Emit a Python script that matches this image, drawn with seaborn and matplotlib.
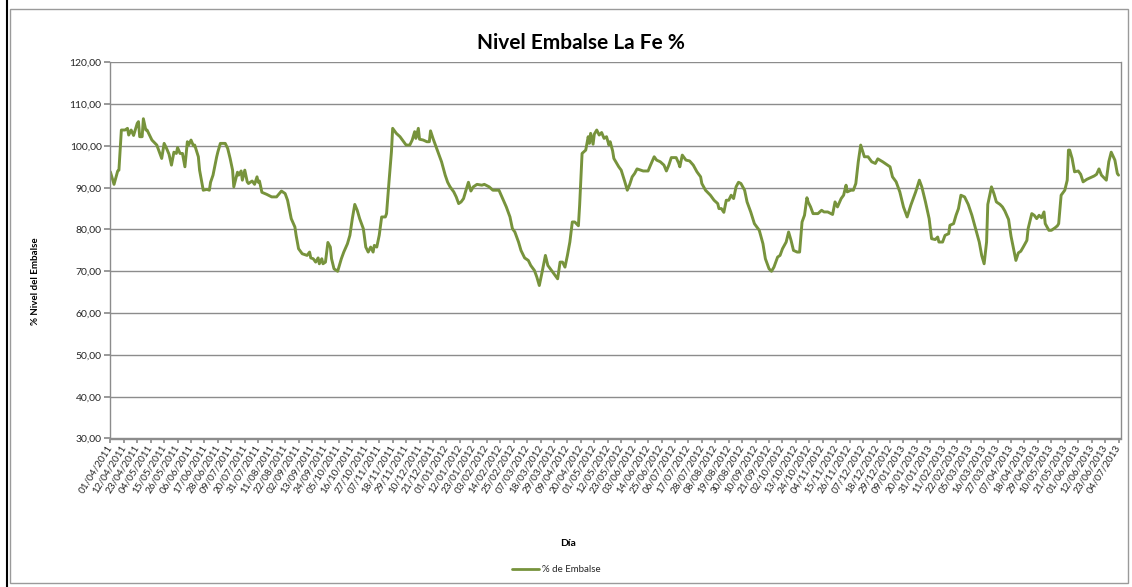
import numpy as np
import pandas as pd
import matplotlib
matplotlib.use("Agg")
import matplotlib.pyplot as plt
import matplotlib.dates as mdates
from matplotlib.lines import Line2D
from matplotlib.patches import Rectangle
from matplotlib.ticker import FuncFormatter
import seaborn as sns

# datos (dias desde el 01/04/2011, nivel en %)
fecha_inicio = "2011-04-01"
fecha_fin = "2013-07-04"

dias = [
    0, 3, 6, 7, 9, 12, 14, 15, 17, 19, 22, 23, 24, 26, 27, 29, 30, 34, 38, 41,
    42, 44, 46, 48, 50, 52, 54, 55, 57, 59, 61, 63, 64, 66, 68, 69, 72, 73, 76, 79,
    81, 82, 84, 87, 88, 90, 94, 96, 98, 100, 101, 104, 105, 107, 108, 110, 112, 113, 116, 118,
    120, 121, 122, 124, 128, 132, 136, 140, 143, 145, 148, 151, 152, 154, 157, 161, 163, 164, 166, 168,
    170, 171, 173, 174, 176, 178, 180, 181, 183, 186, 189, 191, 194, 196, 198, 200, 202, 204,
    207, 209, 211, 213, 215, 216, 218, 220, 222, 225, 226, 228, 230, 231, 234, 237, 240, 242, 245, 247,
    249, 250, 252, 253, 256, 259, 261, 262, 264, 266, 268, 271, 274, 276, 278, 281, 283, 285, 287, 289,
    291, 293, 295, 297, 300, 304, 306, 310, 313, 318, 321, 324, 327, 329, 331, 334, 336, 339, 342, 344,
    347, 349, 351, 353, 356, 358, 361, 363, 366, 368, 370, 372, 374, 376, 378, 380, 383, 384, 385, 386,
    389, 391, 392, 393, 395, 396, 398, 400, 402, 404, 406, 408, 409, 411, 412, 416,
    418, 421, 423, 425, 427, 429, 431, 434, 436, 440, 442, 445, 447, 450, 453, 455, 457, 459, 463, 465,
    466, 468, 471, 474, 477, 480, 483, 484, 487, 491, 494, 497, 498, 500, 502, 504, 506, 508, 510, 512,
    514, 516, 519, 521, 524, 527, 529, 531, 534, 536, 539, 541, 543, 546, 548, 550, 553, 555, 557, 559,
    562, 564, 566, 568, 570, 571, 573, 575, 579, 582, 584, 587, 591, 593, 595, 598, 600, 602, 603, 606,
    608, 610, 612, 614, 617, 620, 623,
    626, 628, 632, 634, 638, 640, 643, 646, 649, 652, 655, 659, 662, 664, 667, 670, 672, 675, 677, 678,
    681, 683, 686, 687, 690, 692, 694, 696, 699, 702, 705, 708, 711, 713, 715, 717, 718, 721, 723, 725,
    728, 730, 732, 735, 737, 741, 743, 745, 747, 750, 751, 754, 756, 758, 760, 762, 764, 765, 768, 770,
    773, 775, 776, 778, 781, 783, 784, 785, 787, 789, 792, 794, 796, 799, 802, 805, 807, 809, 811, 815,
    817, 819, 822, 824, 825,
]

nivel = [
    93.8, 90.8, 94.0, 94.2, 103.8, 103.8, 104.2, 102.6, 103.8, 102.5, 105.4, 105.8, 102.2, 102.2, 106.5, 103.8, 103.8, 101.4, 100.2, 97.8,
    97.0, 100.6, 99.4, 98.0, 95.4, 98.5, 98.2, 99.6, 98.2, 98.2, 95.0, 101.0, 100.2, 101.4, 100.0, 100.2, 97.4, 94.2, 89.4, 89.6,
    89.4, 91.3, 93.0, 97.4, 98.6, 100.6, 100.6, 99.4, 97.0, 94.2, 90.2, 93.7, 93.0, 94.0, 91.8, 94.2, 91.4, 91.0, 91.6, 90.8,
    92.6, 91.3, 91.6, 88.9, 88.4, 87.8, 87.8, 89.2, 88.6, 87.0, 82.6, 80.6, 78.6, 75.4, 74.2, 73.8, 74.6, 73.2, 73.0, 72.2,
    73.2, 71.8, 73.0, 71.8, 72.2, 76.9, 75.8, 73.0, 70.6, 70.0, 73.0, 74.6, 76.6, 78.6, 82.6, 86.0, 84.6, 82.6,
    80.2, 75.8, 74.6, 75.8, 74.6, 76.2, 75.8, 78.6, 83.0, 83.0, 83.8, 91.4, 98.6, 104.2, 103.0, 102.2, 101.0, 100.2, 100.2, 101.4,
    103.4, 101.8, 104.2, 101.6, 101.4, 101.0, 101.0, 103.6, 101.8, 100.2, 98.6, 96.2, 93.0, 91.3, 90.2, 89.0, 87.8, 86.2, 86.6, 87.4,
    89.4, 91.3, 89.2, 90.2, 90.8, 90.6, 90.8, 90.2, 89.4, 89.4, 87.4, 85.4, 83.0, 80.2, 79.4, 77.0, 75.0, 73.2, 72.6, 71.4,
    70.2, 68.6, 66.6, 69.4, 73.8, 71.4, 70.2, 69.4, 68.2, 72.2, 72.2, 71.0, 73.8, 77.0, 81.8, 81.8, 80.9, 85.8, 91.8, 98.2,
    99.0, 102.2, 100.6, 103.0, 100.4, 102.8, 103.8, 102.6, 103.2, 101.8, 102.2, 100.2, 101.0, 98.8, 97.0, 95.0,
    94.2, 91.4, 89.4, 90.8, 92.6, 93.4, 94.5, 94.2, 94.0, 94.0, 95.4, 97.4, 96.6, 96.2, 95.4, 94.0, 95.4, 97.2, 97.2, 95.9,
    95.0, 97.8, 96.6, 96.4, 95.4, 93.8, 92.6, 91.0, 89.4, 88.2, 87.0, 86.2, 85.0, 85.0, 84.1, 87.0, 87.0, 88.2, 87.4, 90.2,
    91.3, 91.0, 89.4, 86.6, 84.2, 81.4, 80.6, 79.8, 76.6, 73.0, 70.6, 70.0, 71.0, 73.4, 73.8, 75.4, 77.0, 79.4, 77.4, 75.0,
    74.6, 74.6, 81.8, 83.4, 87.6, 86.6, 85.4, 83.8, 83.8, 84.6, 84.2, 84.2, 83.6, 86.6, 85.4, 87.4, 88.2, 90.6, 89.0, 89.4,
    89.4, 91.0, 96.2, 100.2, 97.4, 97.4, 96.2,
    95.8, 96.9, 96.2, 95.8, 95.0, 92.6, 91.4, 89.0, 85.4, 83.0, 85.8, 89.0, 91.8, 90.2, 86.6, 82.6, 77.8, 77.6, 78.2, 77.0,
    77.0, 78.6, 79.0, 81.0, 81.4, 83.4, 85.0, 88.2, 87.8, 86.0, 83.4, 80.2, 77.0, 73.8, 71.8, 77.0, 86.0, 90.2, 88.6, 86.6,
    86.0, 85.4, 84.4, 82.4, 78.4, 72.6, 74.4, 74.8, 75.8, 77.4, 80.2, 83.8, 83.4, 82.6, 83.4, 82.8, 84.2, 81.4, 79.8, 79.8,
    80.4, 80.9, 81.4, 88.2, 89.4, 91.8, 99.0, 99.0, 97.0, 93.8, 94.0, 93.2, 91.4, 92.0, 92.4, 92.8, 93.2, 94.5, 93.0, 91.8,
    96.2, 98.5, 96.6, 93.4, 93.0,
]

fechas = pd.Timestamp(fecha_inicio) + pd.to_timedelta(dias, unit="D")
df = pd.DataFrame({"Día": fechas, "% de Embalse": nivel})

sns.set_theme(style="white")
plt.rcParams["font.family"] = ["Lato", "DejaVu Sans"]

verde = "#77933C"
gris = "#8C8C8C"

W, H = 1132, 587
fig = plt.figure(figsize=(W / 100, H / 100), dpi=100)
fig.patch.set_facecolor("white")

# marco del grafico
fig.add_artist(Rectangle((10 / W, 1 - 583 / H), 1118 / W, 574 / H, transform=fig.transFigure,
                         fill=False, edgecolor="#9A9A9A", linewidth=1))
fig.add_artist(Line2D([6.5 / W, 6.5 / W], [0, 1], transform=fig.transFigure, color="black", linewidth=1.5))

ax = fig.add_axes([110 / W, 1 - 438.5 / H, (1121 - 110) / W, (438.5 - 62.3) / H])
sns.lineplot(data=df, x="Día", y="% de Embalse", ax=ax, color=verde, linewidth=2.1, legend=False)

ax.set_ylim(30, 120)
ax.set_yticks(np.arange(30, 121, 10))
ax.yaxis.set_major_formatter(FuncFormatter(lambda v, p: f"{v:.2f}".replace(".", ",")))

ticks = pd.date_range(fecha_inicio, fecha_fin, freq="11D")
ax.set_xticks(ticks)
ax.xaxis.set_major_formatter(mdates.DateFormatter("%d/%m/%Y"))
ax.set_xlim(pd.Timestamp(fecha_inicio) - pd.Timedelta(days=0.3), pd.Timestamp(fecha_fin) + pd.Timedelta(days=2))

ax.grid(axis="y", color=gris, linewidth=1.0)
ax.grid(axis="x", visible=False)
for s in ["left", "bottom", "right"]:
    ax.spines[s].set_color(gris)
    ax.spines[s].set_linewidth(1.0)
ax.spines["top"].set_visible(False)

ax.tick_params(axis="y", direction="out", length=4, color=gris, labelsize=7.5, pad=2, left=True)
ax.tick_params(axis="x", direction="out", length=3, color=gris, labelsize=7.2, pad=2, bottom=True)
plt.setp(ax.get_xticklabels(), rotation=58, ha="right", va="center", rotation_mode="anchor")
ax.set_xlabel("")
ax.set_ylabel("")

fig.text(581 / W, 1 - 43 / H, "Nivel Embalse La Fe %", ha="center", va="center",
         fontsize=15, fontweight="bold", color="black")
fig.text(35 / W, 1 - 281 / H, "% Nivel del Embalse", ha="center", va="center", rotation=90,
         fontsize=7, fontweight="bold", color="black")
fig.text(568 / W, 1 - 543 / H, "Día", ha="center", va="center", fontsize=7.5, fontweight="bold", color="black")

handle = Line2D([], [], color=verde, linewidth=2.0)
fig.legend([handle], ["% de Embalse"], loc="center", bbox_to_anchor=(556 / W, 1 - 570 / H),
           frameon=False, fontsize=7, handlelength=2.8, handletextpad=0.3)

fig.savefig("out.png", dpi=100)
plt.close(fig)
